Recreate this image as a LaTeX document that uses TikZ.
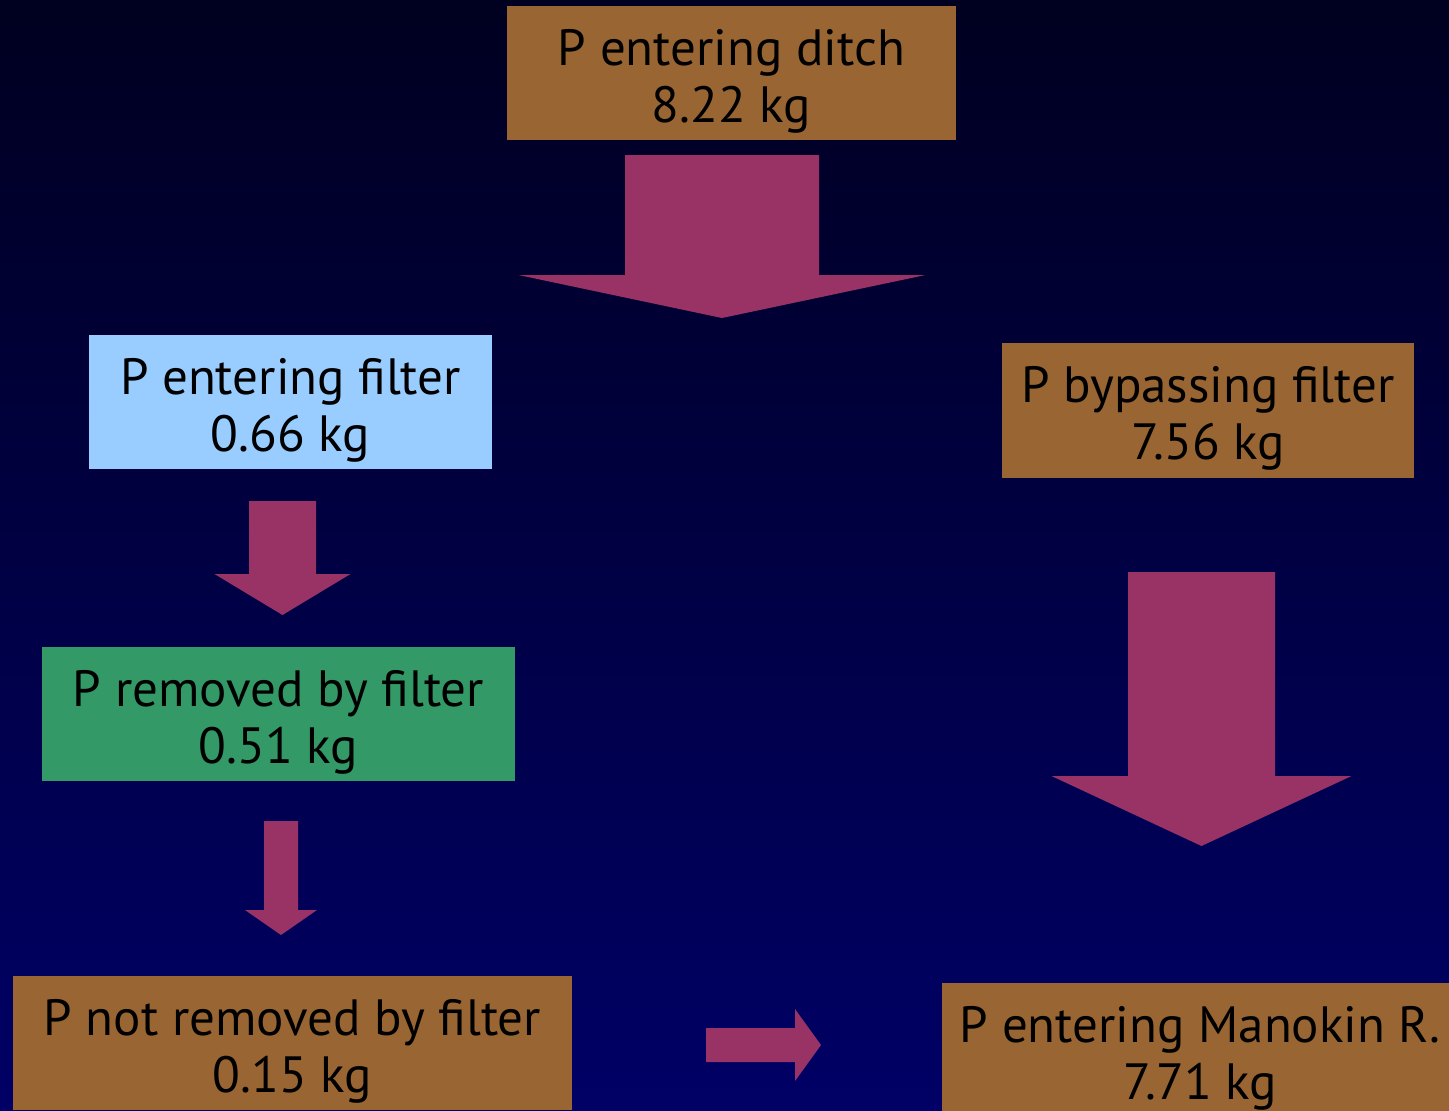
\documentclass[tikz,border=0pt]{standalone}
\usepackage{fontspec}
\setmainfont{PT Sans}

\definecolor{bgtop}{RGB}{0,0,32}
\definecolor{bgmid}{RGB}{0,0,82}
\definecolor{bgbot}{RGB}{0,0,102}
\definecolor{boxbrown}{HTML}{996633}
\definecolor{boxblue}{HTML}{99CCFF}
\definecolor{boxgreen}{HTML}{339966}
\definecolor{flowcol}{HTML}{993366}

\tikzset{
  box/.style={shape=rectangle, inner sep=0pt, align=center,
    font=\fontsize{51}{57}\selectfont, text height=109pt},
}

% down arrow: centre x, top y, neck y, tip y, half shaft, half head
\newcommand{\flowdown}[6]{%
  \fill[flowcol] (#1-#5,#2) -- (#1+#5,#2) -- (#1+#5,#3) -- (#1+#6,#3)
    -- (#1,#4) -- (#1-#6,#3) -- (#1-#5,#3) -- cycle;}

\begin{document}
\begin{tikzpicture}[x=1pt,y=-1pt]
            \useasboundingbox (0,0) rectangle (1449,1111);
            \shade[top color=bgtop, middle color=bgmid, bottom color=bgbot] (0,0) rectangle (1449,1111);

            % boxes
            \node[box,fill=boxbrown,minimum width=449,minimum height=134] (ditch) at (731.5,73) {P entering ditch\\8.22 kg};
            \node[box,fill=boxblue,minimum width=403,minimum height=134] (filter) at (290.5,402) {P entering filter\\0.66 kg};
            \node[box,fill=boxbrown,minimum width=412,minimum height=135] (bypass) at (1208,410.5) {P bypassing filter\\7.56 kg};
            \node[box,fill=boxgreen,minimum width=473,minimum height=134] (removed) at (278.5,714) {P removed by filter\\0.51 kg};
            \node[box,fill=boxbrown,minimum width=559,minimum height=134] (passed) at (292.5,1043) {P not removed by filter\\0.15 kg};
            \node[box,fill=boxbrown,minimum width=516,minimum height=134] (river) at (1200,1050) {P entering Manokin R.\\7.71 kg};

            % arrows
            \flowdown{722}{155}{275}{318}{97}{203.5}
            \flowdown{282.5}{501}{574}{615}{33.5}{68}
            \flowdown{281}{821}{910}{935}{17}{36}
            \flowdown{1201.5}{572}{776}{846}{73.5}{150}
            \fill[flowcol] (706,1028) -- (795,1028) -- (795,1009) -- (821,1045)
              -- (795,1081) -- (795,1062) -- (706,1062) -- cycle;
\end{tikzpicture}
\end{document}
